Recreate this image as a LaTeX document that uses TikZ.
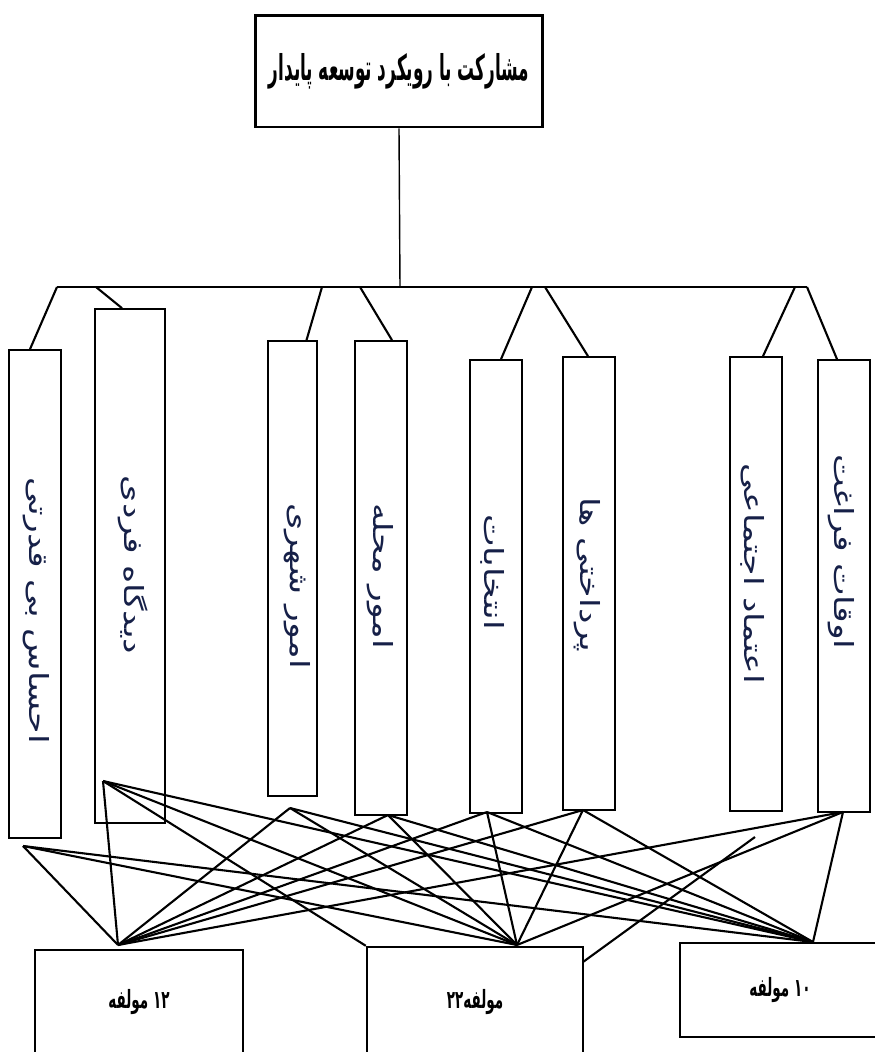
\documentclass[tikz,border=0pt]{standalone}
\usepackage{fontspec}
\newfontfamily\persianfont[Script=Arabic]{DejaVu Sans}
\TeXXeTstate=1
\definecolor{labelblue}{RGB}{22,32,72}

\begin{document}
\begin{tikzpicture}
[
x=0.02cm, y=-0.02cm,
TopBox/.style={rectangle, draw=black, line width=1.7pt, minimum width=5.76cm, minimum height=2.24cm, inner sep=0pt, font=\persianfont\bfseries\fontsize{15}{18}\selectfont},
Column/.style={rectangle, draw=black, line width=1pt, minimum width=1.04cm, inner sep=0pt},
ColLabel/.style={rotate=-90, inner sep=0pt, text=labelblue, font=\persianfont\fontsize{15}{18}\selectfont},
BottomBox/.style={rectangle, draw=black, line width=1.4pt, inner sep=0pt, font=\persianfont\bfseries\fontsize{11}{13}\selectfont},
Trunk/.style={draw=black, line width=0.8pt},
Branch/.style={draw=black, line width=1.2pt},
Link/.style={draw=black, line width=1.2pt},
]

\useasboundingbox (0,0) rectangle (875,1052);
\clip (0,0) rectangle (875,1052);

\node[TopBox] (top) at (399,71) {\scalebox{0.64}[1.35]{\beginR مشارکت با رویکرد توسعه پایدار\endR}};

% columns
\node[Column, minimum height=9.76cm] (b1) at (35,594) {};
\node[Column, minimum width=1.4cm, minimum height=10.28cm] (b2) at (130,566) {};
\node[Column, minimum width=0.98cm, minimum height=9.1cm] (b3) at (292.5,568.5) {};
\node[Column, minimum height=9.48cm] (b4) at (381,578) {};
\node[Column, minimum height=9.06cm] (b5) at (496,586.5) {};
\node[Column, minimum height=9.06cm] (b6) at (589,583.5) {};
\node[Column, minimum height=9.08cm] (b7) at (756,584) {};
\node[Column, minimum height=9.04cm] (b8) at (844,586) {};

\node[ColLabel] (l1) at (36,611) {\scalebox{1.32}[1]{\beginR احساس بی قدرتی\endR}};
\node[ColLabel] (l2) at (133,565) {\scalebox{1.32}[1]{\beginR دیدگاه فردی\endR}};
\node[ColLabel] (l3) at (297,586) {\scalebox{1.32}[1]{\beginR امور شهری\endR}};
\node[ColLabel] (l4) at (380,576) {\scalebox{1.32}[1]{\beginR امور محله\endR}};
\node[ColLabel] (l5) at (493,572) {\scalebox{1.32}[1]{\beginR انتخابات\endR}};
\node[ColLabel] (l6) at (587,575) {\scalebox{1.32}[1]{\beginR پرداختی ها\endR}};
\node[ColLabel] (l7) at (753,574) {\scalebox{1.32}[1]{\beginR اعتماد اجتماعی\endR}};
\node[ColLabel] (l8) at (841,552) {\scalebox{1.32}[1]{\beginR اوقات فراغت\endR}};

% bottom boxes
\node[BottomBox, minimum width=4.16cm, minimum height=2.08cm] (bA) at (139,1002) {\scalebox{0.7}[1.3]{\beginR\beginL ۱۲\endL{} مولفه\endR}};
\node[BottomBox, minimum width=4.32cm, minimum height=2.2cm] (bB) at (475,1002) {\scalebox{0.7}[1.3]{\beginR مولفه\beginL ۲۲\endL\endR}};
\node[BottomBox, minimum width=4.0cm, minimum height=1.88cm] (bC) at (780,990) {\scalebox{0.7}[1.3]{\beginR\beginL ۱۰\endL{} مولفه\endR}};

% tree
\coordinate (barL) at (57,287);
\coordinate (barM) at (400,287);
\coordinate (barR) at (807,287);
\coordinate (j2) at (96,287);
\coordinate (j3) at (322,287);
\coordinate (j4) at (360,287);
\coordinate (j5) at (532,287);
\coordinate (j6) at (545,287);
\coordinate (j7) at (795,287);

\draw[Trunk] (top.south) -- (barM);
\draw[Branch] (barL) -- (barR);

\draw[Branch] (barL) -- ([shift={(-5,0)}]b1.north);
\draw[Branch] (j2) -- ([shift={(-8,0)}]b2.north);
\draw[Branch] (j3) -- ([shift={(14,0)}]b3.north);
\draw[Branch] (j4) -- ([shift={(11,0)}]b4.north);
\draw[Branch] (j5) -- ([shift={(5,0)}]b5.north);
\draw[Branch] (j6) -- ([shift={(-1,0)}]b6.north);
\draw[Branch] (j7) -- ([shift={(7,0)}]b7.north);
\draw[Branch] (barR) -- ([shift={(-7,0)}]b8.north);

% links to the bottom boxes
\coordinate (s1) at (23,846);
\coordinate (s2) at (103,781);
\coordinate (s3) at (290,808);
\coordinate (s4) at (388,815);
\coordinate (s5) at (487,812);
\coordinate (s6) at (583,810);
\coordinate (s7) at (755,837);
\coordinate (s8) at (843,812);
\coordinate (hA) at (118,945);
\coordinate (hB) at (517,945);
\coordinate (hC) at (813,942);
\coordinate (e7) at (583,962);

\draw[Link] (s1) -- (hA);
\draw[Link] (s1) -- (hB);
\draw[Link] (s1) -- (hC);
\draw[Link] (s2) -- (hA);
\draw[Link] (s2) -- (hB);
\draw[Link] (s2) -- (hC);
\draw[Link] (s2) -- (bB.north west);
\draw[Link] (s3) -- (hA);
\draw[Link] (s3) -- (hB);
\draw[Link] (s3) -- (hC);
\draw[Link] (s4) -- (hA);
\draw[Link] (s4) -- (hB);
\draw[Link] (s4) -- (hC);
\draw[Link] (s5) -- (hA);
\draw[Link] (s5) -- (hB);
\draw[Link] (s5) -- (hC);
\draw[Link] (s6) -- (hA);
\draw[Link] (s6) -- (hB);
\draw[Link] (s6) -- (hC);
\draw[Link] (s8) -- (hA);
\draw[Link] (s8) -- (hB);
\draw[Link] (s8) -- (hC);
\draw[Link] (e7) -- (s7);

\end{tikzpicture}
\end{document}
